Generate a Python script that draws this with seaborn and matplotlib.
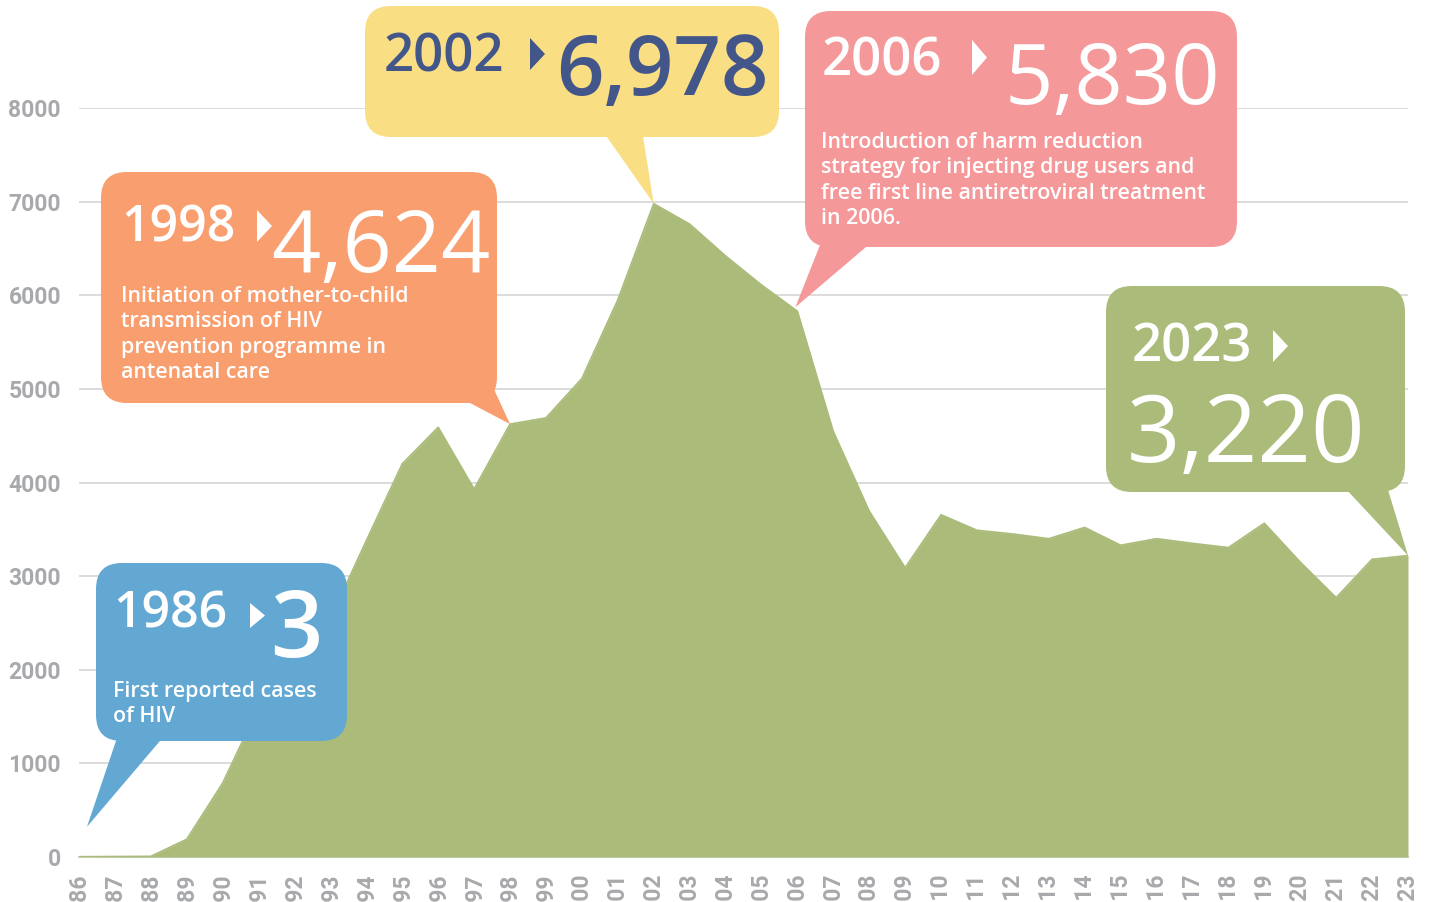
import matplotlib
matplotlib.use("Agg")
import matplotlib.pyplot as plt
import seaborn as sns
import numpy as np
import pandas as pd
from matplotlib.patches import FancyBboxPatch, Polygon

# ---------------- data ----------------
years = list(range(1986, 2024))
cases = [3, 5, 7, 190, 790, 1600, 2100, 2550, 3380, 4200, 4590, 3930, 4624, 4690,
         5110, 5950, 6978, 6760, 6420, 6110, 5830, 4545, 3695, 3090, 3655, 3490,
         3450, 3400, 3520, 3330, 3400, 3350, 3305, 3565, 3150, 2770, 3180, 3220]
y_ticks = [0, 1000, 2000, 3000, 4000, 5000, 6000, 7000, 8000]

callout_years = [1986, 1998, 2002, 2006, 2023]
callout_years_txt = ["1986", "1998", "2002", "2006", "2023"]
callout_values_txt = ["3", "4,624", "6,978", "5,830", "3,220"]
callout_body = [
    ["First reported cases", "of HIV"],
    ["Initiation of mother-to-child", "transmission of HIV",
     "prevention programme in", "antenatal care"],
    [],
    ["Introduction of harm reduction", "strategy for injecting drug users and",
     "free first line antiretroviral treatment", "in 2006."],
    [],
]

df = pd.DataFrame({"year": years, "cases": cases})

# ---------------- style ----------------
sns.set_theme(style="white")
plt.rcParams["font.family"] = ["Open Sans", "DejaVu Sans"]

W, H = 1434, 902
fig = plt.figure(figsize=(W / 100, H / 100), dpi=100)
fig.patch.set_facecolor("white")

x0, x1 = 79, 1408
yb, yt = 857, 108
ax = fig.add_axes([x0 / W, (H - yb) / H, (x1 - x0) / W, (yb - yt) / H])
ax.set_xlim(1986, 2023)
ax.set_ylim(0, 8000)

AREA = "#aabb7a"
ax.fill_between(df["year"], df["cases"], 0, color=AREA, lw=0, zorder=2)
sns.lineplot(data=df, x="year", y="cases", ax=ax, color=AREA, lw=1.2, zorder=3)

GRID = "#dcdcdc"
for v in y_ticks[1:]:
    ax.axhline(v, color=GRID, lw=1.4, zorder=1)
for s in ["top", "right", "left"]:
    ax.spines[s].set_visible(False)
ax.spines["bottom"].set_color("#d5d9c8")
ax.spines["bottom"].set_linewidth(1.5)
ax.spines["bottom"].set_zorder(1)

TICKC = "#a7a9ac"
tickfont = dict(family=["Roboto", "DejaVu Sans"], weight="bold", size=16.5)
ax.set_yticks(y_ticks)
ax.set_yticklabels([str(v) for v in y_ticks], color=TICKC, fontdict=tickfont)
ax.tick_params(axis="y", length=0, pad=13)
ax.set_xticks(years)
ax.set_xticklabels([str(y) for y in years], rotation=90, color=TICKC, fontdict=tickfont,
                   va="top", ha="center")
ax.tick_params(axis="x", length=9, width=1, color="#d8d8d8", pad=3, direction="out")
ax.set_xlabel("")
ax.set_ylabel("")
ax.grid(False)

# ---------------- overlay for callouts (pixel coordinates) ----------------
ov = fig.add_axes([0, 0, 1, 1], zorder=5)
ov.set_xlim(0, W)
ov.set_ylim(H, 0)
ov.axis("off")
ov.patch.set_alpha(0)

fig.canvas.draw()


def data_px(year, val):
    px, py = ax.transData.transform((year, val))
    return px, H - py


def box(x, y, w, h, color, r=26):
    ov.add_patch(FancyBboxPatch((x + r, y + r), w - 2 * r, h - 2 * r,
                                boxstyle=f"round,pad={r},rounding_size={r}",
                                fc=color, ec="none", zorder=6))


def pointer(b1, b2, tip, color):
    ov.add_patch(Polygon([b1, b2, tip], closed=True, fc=color, ec="none", zorder=6))


def arrow(x, ytop, ybot, color, w=15):
    ov.add_patch(Polygon([(x, ytop), (x + w, (ytop + ybot) / 2), (x, ybot)],
                         closed=True, fc=color, ec="none", zorder=7))


def txt(x, y, s, size, color, weight="normal"):
    ov.text(x, y, s, fontsize=size, color=color, fontweight=weight, ha="left",
            va="baseline", zorder=8)


def body(x, y0, lines, size=15.4, step=25.3):
    for i, line in enumerate(lines):
        txt(x, y0 + i * step, line, size, "white", "semibold")


BLUE, ORANGE, YELLOW, PINK = "#62a8d2", "#f99e6f", "#f9de84", "#f5989a"
NAVY = "#43568a"
WHITE = "white"
vals = dict(zip(years, cases))

# 1986 (blue)
tx, ty = data_px(callout_years[0], vals[callout_years[0]])
box(96, 563, 251, 178, BLUE)
pointer((118, 735), (165, 735), (tx + 8, ty - 30), BLUE)
txt(113, 628, callout_years_txt[0], 36, WHITE, "semibold")
arrow(250, 603, 628, WHITE)
txt(270, 657, callout_values_txt[0], 66, WHITE, "semibold")
body(113, 697, callout_body[0])

# 1998 (orange)
tx, ty = data_px(callout_years[1], vals[callout_years[1]])
box(101, 172, 396, 231, ORANGE)
pointer((470, 403), (492, 385), (tx, ty), ORANGE)
txt(121, 242, callout_years_txt[1], 36, WHITE, "semibold")
arrow(257, 210, 242, WHITE)
txt(271, 272, callout_values_txt[1], 62, WHITE, "normal")
body(121, 302, callout_body[1])

# 2002 (yellow)
tx, ty = data_px(callout_years[2], vals[callout_years[2]])
box(365, 6, 414, 131, YELLOW)
pointer((602, 130), (642, 130), (tx, ty), YELLOW)
txt(384, 71, callout_years_txt[2], 38, NAVY, "semibold")
arrow(530, 38, 70, NAVY)
txt(556, 95, callout_values_txt[2], 60, NAVY, "semibold")

# 2006 (pink)
tx, ty = data_px(callout_years[3], vals[callout_years[3]])
box(805, 11, 432, 236, PINK)
pointer((822, 240), (866, 247), (tx - 2, ty - 4), PINK)
txt(822, 75, callout_years_txt[3], 38, WHITE, "semibold")
arrow(972, 40, 75, WHITE)
txt(1005, 104, callout_values_txt[3], 61, WHITE, "normal")
body(821, 148, callout_body[3])

# 2023 (green)
tx, ty = data_px(callout_years[4], vals[callout_years[4]])
box(1106, 286, 299, 206, AREA)
pointer((1345, 488), (1385, 480), (tx, ty), AREA)
txt(1132, 362, callout_years_txt[4], 38, WHITE, "semibold")
arrow(1273, 330, 362, WHITE)
txt(1127, 462, callout_values_txt[4], 67.5, WHITE, "normal")

fig.savefig("out.png", dpi=100, facecolor="white")
